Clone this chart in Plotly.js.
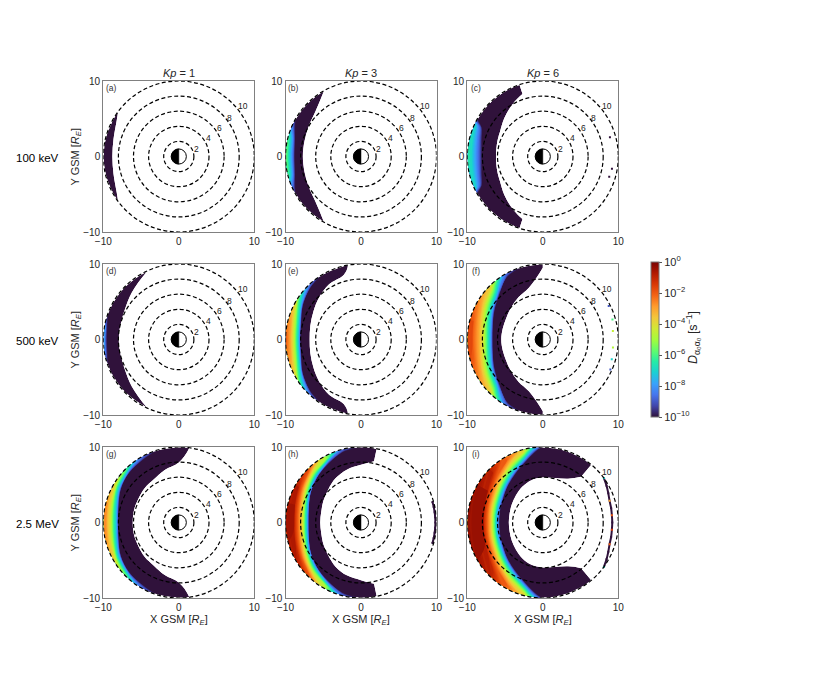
<!DOCTYPE html>
<html>
<head>
<meta charset="utf-8">
<script src="https://cdn.plot.ly/plotly-3.0.1.min.js"></script>
<style>body{margin:0;background:#fff}</style>
</head>
<body>
<div id="chart" style="width:830px;height:673px"></div>
<script>
// panel labels
const letters = ['a','b','c','d','e','f','g','h','i'];
const kpLabels = ['1','3','6'];
const energies = ['100 keV','500 keV','2.5 MeV'];
const ringRadii = [2,4,6,8,10];
const ringLabelX = [2.35,3.9,5.35,6.77,8.45];
const ringLabelY = [0.97,2.43,3.76,5.09,6.64];
const outerR = 9.95;

// angle away from the noon side (deg), read for one side, mirrored for the other
const offs = [
  [0,15,30,36],
  [0,15,30,45,60],
  [0,15,25,30,45,60,72],
  [0,10,20,30,45,65],
  [0,15,30,45,60,75,80],
  [0,15,30,45,60,75,90],
  [0,15,30,45,60,75,90,98],
  [0,15,30,45,60,75,90,102],
  [0,15,30,45,60,75,90,105,120,130]
];
// inner edge of the coloured region, R_E
const inner = [
  [8.8,8.95,9.5,9.95],
  [7.7,7.75,8.0,8.5,9.9],
  [6.2,6.3,6.45,6.55,7.2,8.0,8.7],
  [7.95,7.95,8.0,8.2,8.8,9.95],
  [6.8,6.95,7.3,7.85,8.45,8.85,9.95],
  [5.5,5.5,5.6,5.95,6.45,7.1,9.5],
  [6.1,6.15,6.2,6.4,6.6,7.2,7.95,9.95],
  [5.4,5.45,5.75,6.15,6.75,7.25,7.65,8.3],
  [4.5,4.55,4.75,5.05,5.45,5.8,5.95,6.1,6.7,7.9]
];
// log10 D at the outer edge per angle; short rows fall back to the floor
const rimLog = [
  [],
  [-5.8,-6,-10],
  [-6.3,-6.9,-8.8,-10],
  [-7.5,-8,-10],
  [-1.8,-2.6,-4,-8],
  [-1.5,-1.7,-2.4,-3.6,-8.5],
  [-2.5,-2.7,-3.6,-5.5,-8.5],
  [-0.4,-0.5,-0.7,-1.7,-4.4,-8.7],
  [-0.2,-0.25,-0.4,-0.8,-2.2,-3.8]
];
// radius where log10 D crosses -10, -9, -8 ... per angle; short rows stop at the outer edge
const crossings = [
  [],
  [[8.8,9.05,9.95],[8.95,9.2],[9.2,9.4],[9.5,9.7],[9.8,9.95]],
  [[8.05,8.35,8.9,9.85],[8.4,8.65,9.15],[8.9,9.1,9.55],[9.45,9.6,9.85]],
  [[9.5,9.6,9.9],[9.75,9.8]],
  [[8.05,8.2,8.9,9.55],[8.1,8.3,9.0,9.7],[8.2,8.4,9.1,9.95],[8.36,8.55,9.3],[8.6,8.8,9.6],[8.8,9.0,9.8],[9.03,9.3],[9.38,9.6],[9.9]],
  [[6.65,6.85,7.4,8.2,9.5],[6.75,6.95,7.55,8.35,9.7],[6.9,7.1,7.7,8.5],[7.15,7.35,7.95,8.75],[7.4,7.65,8.25,9.05],[7.7,7.95,8.6,9.4],[8.0,8.3,8.95,9.7],[8.5,8.75,9.4],[9.3,9.5]],
  [[8.0,8.25,8.85,9.3,9.55],[8.1,8.35,8.95,9.4,9.75],[8.2,8.45,9.05,9.5],[8.4,8.65,9.25,9.65],[8.7,8.9,9.45,9.85],[8.9,9.1,9.6],[9.15,9.35,9.8],[9.6,9.75]],
  [[6.95,7.15,7.7,8.3,8.85,9.6],[7.0,7.2,7.75,8.35,9.0,9.8],[7.1,7.3,7.85,8.45,9.1],[7.25,7.45,8.0,8.6,9.25],[7.45,7.65,8.15,8.8,9.4],[7.6,7.8,8.35,9.0,9.55],[7.8,8.0,8.55,9.2],[8.05,8.25,8.8,9.45],[8.4,8.6,9.1,9.75],[8.85,9.05,9.5]],
  [[5.75,5.85,6.1,6.65,7.35,8.45],[5.84,5.95,6.2,6.75,7.5,8.6],[6.0,6.1,6.35,6.9,7.65,8.8],[6.24,6.35,6.6,7.1,7.9,9.0],[6.4,6.5,6.8,7.35,8.15,9.25],[6.64,6.75,7.05,7.6,8.45,9.5],[6.8,6.95,7.25,7.85,8.75,9.75],[7.03,7.2,7.5,8.15,9.1],[7.4,7.55,7.9,8.6,9.6],[7.83,8.0,8.4,9.3]]
];

// stray bits on the midnight side: angle from +x (deg), radius, log10 D
const sideAngle = {
  2:[16,-10,-17],
  5:[27,16,7,-6.5,-16,-24],
  7:[16,12,8,4,0,-4,-8,-12,-16],
  8:[36,30,24,18,12,6,0,-6,-12,-18,-24,-30,-36]
};
const sideR = {
  2:[9.25,9.3,9.2],
  5:[9.8,9.6,9.35,9.35,9.5,9.8],
  7:[9.85,9.85,9.85,9.85,9.85,9.85,9.85,9.85,9.85],
  8:[10,9.75,9.5,9.3,9.25,9.2,9.2,9.2,9.25,9.3,9.5,9.75,10]
};
const sideLog = {
  2:[-10,-10,-10],
  5:[-9,-6,-4.5,-4.8,-7,-9],
  7:[-10,-10,-10,-10,-10,-10,-10,-10,-10],
  8:[-7,-10,-10,-3,-10,-2,-10,-1.5,-10,-2,-10,-10,-7]
};

const turbo = ['#30123b','#4145ab','#4675ed','#39a2fc','#1bcfd4','#24eca6','#61fc6c','#a4fc3b','#d1e834','#f3c63a','#fe9b2d','#f36315','#d93806','#b11901','#7a0403'];
const colorscale = turbo.map((c,i) => [i/(turbo.length-1), c]);

const W = 830, H = 673;
const colLeft = [103.3,285.5,467.3];
const rowTop = [81,264,447];
const size = 151;
const floorLog = -10.2;

let traces = [];
let layout = {
  width: W, height: H,
  margin: {l:0,r:0,t:0,b:0},
  paper_bgcolor: '#fff', plot_bgcolor: '#fff',
  font: {family:'"Liberation Sans", Arial, sans-serif', size:10, color:'#262626'},
  showlegend: false,
  shapes: [], annotations: []
};

function axisStyle() {
  return {
    range: [-10,10], autorange: false, fixedrange: true,
    tickvals: [-10,0,10], ticks: '', showgrid: false, zeroline: false,
    showline: true, mirror: true, linecolor: '#808080', linewidth: 1.2,
    tickfont: {size:10}
  };
}
function pageText(px, py, text, size, extra) {
  layout.annotations.push(Object.assign({xref:'paper', yref:'paper', x:px/W, y:1-py/H, xanchor:'center', yanchor:'middle',
    text:text, showarrow:false, font:{size:size}}, extra || {}));
}

for (let p = 0; p < 9; p++) {
  const col = p % 3, row = Math.floor(p/3);
  const n = p === 0 ? '' : String(p+1);
  const xa = axisStyle();
  xa.domain = [colLeft[col]/W, (colLeft[col]+size)/W];
  xa.anchor = 'y'+n;
  const ya = axisStyle();
  ya.domain = [1-(rowTop[row]+size)/H, 1-rowTop[row]/H];
  ya.anchor = 'x'+n;
  layout['xaxis'+n] = xa;
  layout['yaxis'+n] = ya;

  // one grid row per crossing, from the inner edge to the outer edge
  const rows = [inner[p]].concat(crossings[p]);
  const half = offs[p];
  const signed = half.slice(1).reverse().map(o => -o).concat(half);
  const gx = [], gy = [], gz = [];
  signed.forEach(o => {
    const k = half.indexOf(Math.abs(o));
    const a = (180+o)*Math.PI/180;
    const rim = k < rimLog[p].length ? rimLog[p][k] : floorLog;
    const rr = [], zz = [];
    rows.forEach((r,i) => {
      const there = k < r.length;
      rr.push(there ? r[k] : outerR);
      zz.push(i === 0 ? floorLog : (there ? -11+i : rim));
    });
    rr.push(outerR); zz.push(rim);
    gx.push(rr.map(r => r*Math.cos(a)));
    gy.push(rr.map(r => r*Math.sin(a)));
    gz.push(zz);
  });
  const aIdx = gx[0].map((_,i) => i), bIdx = signed.map((_,i) => i);
  const hidden = {showgrid:false, showline:false, showticklabels:'none', startline:false, endline:false, minorgridcount:0, smoothing:0, ticks:''};
  const hiddenB = Object.assign({}, hidden, {smoothing:1});
  traces.push({type:'carpet', carpet:'c'+p, a:aIdx, b:bIdx, x:gx, y:gy, aaxis:hidden, baxis:hiddenB, xaxis:'x'+n, yaxis:'y'+n});
  traces.push({type:'contourcarpet', carpet:'c'+p, a:aIdx, b:bIdx, z:gz, autocontour:false,
    contours:{start:-10,end:0,size:0.1,coloring:'fill',showlines:false},
    line:{width:0}, colorscale:colorscale, showscale:false, xaxis:'x'+n, yaxis:'y'+n});

  if (sideAngle[p]) {
    const band = p >= 7;
    traces.push({type:'scatter', xaxis:'x'+n, yaxis:'y'+n, mode: band ? 'lines+markers' : 'markers',
      x: sideAngle[p].map((a,i) => sideR[p][i]*Math.cos(a*Math.PI/180)),
      y: sideAngle[p].map((a,i) => sideR[p][i]*Math.sin(a*Math.PI/180)),
      line:{color:turbo[0], width:2, shape:'spline'},
      marker:{size:2, symbol:'square', color:sideLog[p], cmin:-10, cmax:0, colorscale:colorscale},
      hoverinfo:'skip'});
  }

  // dashed L shells
  const xr = 'x'+n, yr = 'y'+n;
  ringRadii.forEach((r,i) => {
    layout.shapes.push({type:'circle', xref:xr, yref:yr, x0:-r, x1:r, y0:-r, y1:r,
      line:{color:'#000', width:1.2, dash:'4px,2.5px'}});
    layout.annotations.push({xref:xr, yref:yr, x:ringLabelX[i], y:ringLabelY[i], text:String(r),
      showarrow:false, font:{size:8.5,color:'#222'}});
  });
  // earth, night half black
  layout.shapes.push({type:'circle', xref:xr, yref:yr, x0:-1, x1:1, y0:-1, y1:1, fillcolor:'#fff', line:{color:'#000',width:1}});
  let d = 'M0,-1';
  for (let t = -80; t <= 80; t += 10) {
    d += ' L'+(-Math.cos(t*Math.PI/180)).toFixed(3)+','+Math.sin(t*Math.PI/180).toFixed(3);
  }
  layout.shapes.push({type:'path', xref:xr, yref:yr, path:d+' L0,1 Z', fillcolor:'#000', line:{color:'#000',width:0.5}});

  layout.annotations.push({xref:xr, yref:yr, x:-8.9, y:9.1, text:'('+letters[p]+')', showarrow:false, font:{size:8.5,color:'#333'}});
}

kpLabels.forEach((k,i) => {
  pageText(colLeft[i]+size/2, 73, '<i>Kp</i> = '+k, 11);
  pageText(colLeft[i]+size/2, 620, 'X GSM [<i>R<sub>E</sub></i>]', 11);
});
energies.forEach((e,i) => {
  pageText(37, rowTop[i]+size/2+1, e, 11.5, {font:{size:11.5,color:'#000'}});
  pageText(75, rowTop[i]+size/2, 'Y GSM [<i>R<sub>E</sub></i>]', 11, {textangle:-90});
});
pageText(693, 338, '<i>D</i><sub>α₀α₀</sub> [s<sup>−1</sup>]', 12.5, {textangle:-90});

// only here for the colour bar, sits off the axes
traces.push({type:'heatmap', x:[100,101], y:[100,101], z:[[-10,0],[-10,0]], zmin:-10, zmax:0,
  colorscale:colorscale, hoverinfo:'skip',
  colorbar:{x:651/W, xanchor:'left', xpad:0, y:1-262/H, yanchor:'top', ypad:0,
    len:155/H, lenmode:'fraction', thickness:8, thicknessmode:'pixels',
    outlinecolor:'#777', outlinewidth:1, ticks:'outside', ticklen:3, tickcolor:'#555',
    tickvals:[-10,-8,-6,-4,-2,0],
    ticktext:['10<sup>−10</sup>','10<sup>−8</sup>','10<sup>−6</sup>','10<sup>−4</sup>','10<sup>−2</sup>','10<sup>0</sup>'],
    tickfont:{size:11}}});

Plotly.newPlot('chart', traces, layout, {displayModeBar:false});
</script>
</body>
</html>
